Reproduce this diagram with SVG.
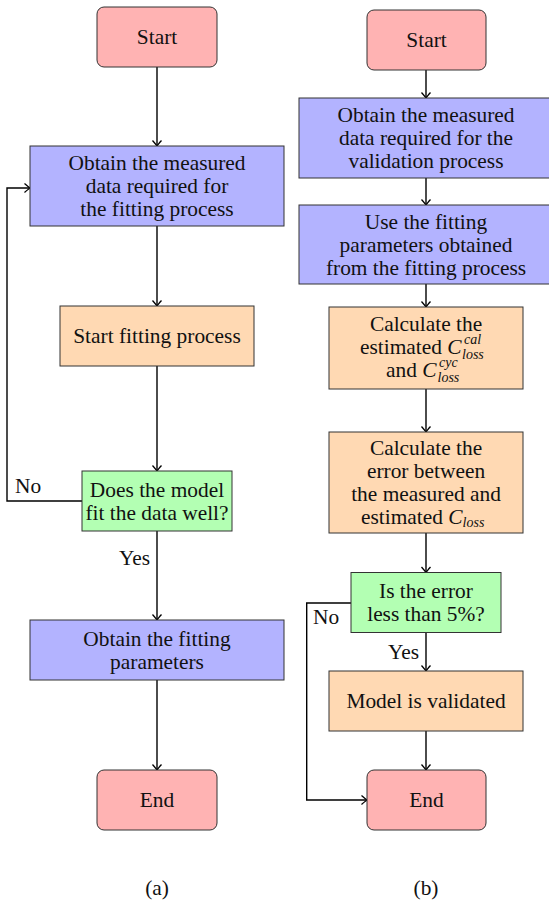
<svg xmlns="http://www.w3.org/2000/svg" width="549" height="904" viewBox="0 0 549 904">
<style>
text{font-family:"Liberation Serif","Times New Roman",serif;font-size:21.4px;fill:#111;}
.c{text-anchor:middle;}
.m{font-style:italic;}
.s{font-style:italic;font-size:14px;}
.red{fill:#ffb3b3;stroke:#333;stroke-width:1;}
.blue{fill:#b3b3ff;stroke:#333;stroke-width:1;}
.orange{fill:#ffd9b3;stroke:#333;stroke-width:1;}
.green{fill:#b3ffb3;stroke:#333;stroke-width:1;}
.edge{fill:none;stroke:#000;stroke-width:1.4;marker-end:url(#arr);}
</style>
<defs>
<marker id="arr" markerUnits="userSpaceOnUse" markerWidth="14" markerHeight="14" viewBox="-7 -7 14 14" refX="0" refY="0" orient="auto" overflow="visible">
<path d="M-5.5,-4.5 Q-1.5,-1 0,0 Q-1.5,1 -5.5,4.5" fill="none" stroke="#000" stroke-width="1.3"/>
</marker>
</defs>
<rect width="549" height="904" fill="#fff"/>

<g id="connectors">
<path class="edge" d="M157,67 V146"/>
<path class="edge" d="M157,226 V306"/>
<path class="edge" d="M157,366 V471"/>
<path class="edge" d="M157,531 V620"/>
<path class="edge" d="M157,680 V770"/>
<path class="edge" d="M82,501 H7 V188 H30"/>
<path class="edge" d="M426,70 V98"/>
<path class="edge" d="M426,178 V205"/>
<path class="edge" d="M426,284 V307"/>
<path class="edge" d="M426,389 V432"/>
<path class="edge" d="M426,533 V572.5"/>
<path class="edge" d="M426,632.5 V671"/>
<path class="edge" d="M426,731 V770"/>
<path class="edge" d="M351,603 H306.7 V800 H367"/>
<text x="15" y="493">No</text>
<text x="119" y="565">Yes</text>
<text x="313" y="624">No</text>
<text x="388" y="659">Yes</text>
</g>

<g id="a-start">
<rect class="red" x="97" y="7" width="120" height="60" rx="7"/>
<text class="c" x="157" y="44">Start</text>
</g>
<g id="a-obtain">
<rect class="blue" x="30" y="146" width="254" height="80"/>
<text class="c" x="157" y="170">Obtain the measured</text>
<text class="c" x="157" y="193">data required for</text>
<text class="c" x="157" y="216">the fitting process</text>
</g>
<g id="a-fit">
<rect class="orange" x="60" y="306" width="194" height="60"/>
<text class="c" x="157" y="343">Start fitting process</text>
</g>
<g id="a-decision">
<rect class="green" x="82" y="471" width="150" height="60"/>
<text class="c" x="157" y="496.5">Does the model</text>
<text class="c" x="157" y="519.5">fit the data well?</text>
</g>
<g id="a-params">
<rect class="blue" x="30" y="620" width="254" height="60"/>
<text class="c" x="157" y="645.5">Obtain the fitting</text>
<text class="c" x="157" y="668.5">parameters</text>
</g>
<g id="a-end">
<rect class="red" x="97" y="770" width="120" height="60" rx="7"/>
<text class="c" x="157" y="807">End</text>
</g>
<text class="c" x="157" y="895">(a)</text>

<g id="b-start">
<rect class="red" x="367" y="10" width="119" height="60" rx="7"/>
<text class="c" x="426.5" y="47">Start</text>
</g>
<g id="b-obtain">
<rect class="blue" x="299" y="98" width="254" height="80"/>
<text class="c" x="426" y="122">Obtain the measured</text>
<text class="c" x="426" y="145">data required for the</text>
<text class="c" x="426" y="168">validation process</text>
</g>
<g id="b-use">
<rect class="blue" x="299" y="205" width="254" height="79"/>
<text class="c" x="426" y="228.5">Use the fitting</text>
<text class="c" x="426" y="251.5">parameters obtained</text>
<text class="c" x="426" y="274.5">from the fitting process</text>
</g>
<g id="b-calc">
<rect class="orange" x="329" y="307" width="194" height="82"/>
<text class="c" x="426" y="330.5">Calculate the</text>
<text x="360" y="353.5">estimated <tspan class="m">C</tspan></text>
<text class="s" x="464" y="343.5">cal</text>
<text class="s" x="462" y="359">loss</text>
<text x="386" y="376.5">and <tspan class="m">C</tspan></text>
<text class="s" x="439" y="366.5">cyc</text>
<text class="s" x="437.5" y="382">loss</text>
</g>
<g id="b-error">
<rect class="orange" x="329" y="432" width="194" height="101"/>
<text class="c" x="426" y="455">Calculate the</text>
<text class="c" x="426" y="478">error between</text>
<text class="c" x="426" y="501">the measured and</text>
<text x="361" y="524">estimated <tspan class="m">C</tspan><tspan class="s" dy="3">loss</tspan></text>
</g>
<g id="b-decision">
<rect class="green" x="351" y="572.5" width="150" height="60"/>
<text class="c" x="426" y="598">Is the error</text>
<text class="c" x="426" y="621">less than 5%?</text>
</g>
<g id="b-valid">
<rect class="orange" x="329" y="671" width="194" height="60"/>
<text class="c" x="426" y="708">Model is validated</text>
</g>
<g id="b-end">
<rect class="red" x="367" y="770" width="119" height="60" rx="7"/>
<text class="c" x="426.5" y="807">End</text>
</g>
<text class="c" x="426" y="895">(b)</text>
</svg>
